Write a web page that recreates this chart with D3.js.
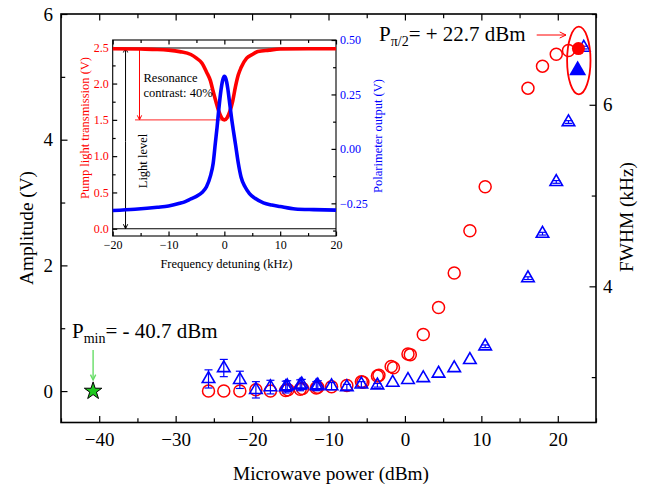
<!DOCTYPE html>
<html><head><meta charset="utf-8">
<script src="https://cdn.jsdelivr.net/npm/d3@7"></script>
<style>body{margin:0;background:#fff} svg{display:block} text{font-family:"Liberation Serif","Times New Roman",serif}</style>
</head><body><svg id="c" width="649" height="487"></svg>
<script>
// ---------- main chart data ----------
const ampPower = [-25.7,-23.7,-21.6,-19.5,-17.6,-15.6,-15.3,-13.7,-13.4,-11.6,-11.4,-9.6,-7.6,-5.7,-5.5,-3.6,-3.4,-1.8,-1.5,0.4,0.7,2.4,4.4,6.45,8.5,10.5,16.1,18.0,19.8,21.4];
const amplitude = [0,0,0,0.02,0,0.01,0.02,0.03,0.04,0.05,0.06,0.07,0.09,0.15,0.14,0.24,0.25,0.39,0.37,0.59,0.58,0.90,1.33,1.88,2.55,3.25,4.82,5.17,5.36,5.42];
const fwhmPower = [-25.7,-23.7,-21.6,-19.5,-17.6,-15.6,-15.4,-13.7,-13.5,-11.6,-11.4,-9.6,-7.6,-5.7,-3.6,-1.6,0.4,2.4,4.4,6.45,8.5,10.5,16.1,18.0,19.8,21.4,23.4];
const fwhm = [2.98,3.10,2.97,2.86,2.89,2.89,2.90,2.91,2.92,2.90,2.91,2.90,2.89,2.92,2.91,2.94,2.97,2.99,3.04,3.10,3.19,3.34,4.09,4.58,5.15,5.81,6.63];
const fwhmErr = [0.10,0.095,0.095,0.09,0.075,0.065,0.06,0.06,0.055,0.05,0.05,0.04,0.03,0.03,0.02,0,0,0,0,0,0,0.015,0.015,0.015,0.015,0.015,0.015];
const piPower = 22.7, piAmp = 5.45;       // filled red circle
const piFwhmPower = 22.6, piFwhm = 6.38;  // filled blue triangle
const minPower = -40.8, minAmp = 0;       // green star
const xTicks = [-40,-30,-20,-10,0,10,20];
const xMinor = [-45,-35,-25,-15,-5,5,15,25];
const ampTicks = [0,2,4,6], ampMinor = [1,3,5];
const fwhmTicks = [4,6], fwhmMinor = [3,5,7];

// ---------- inset data ----------
const detuneRed = [-20,-15,-12,-10,-8,-6,-5,-4,-3.2,-2.5,-2,-1.5,-1,-0.5,0,0.5,1,1.5,2,2.5,3,4,5,6,8,10,15,20];
const pumpTrans = [2.48,2.475,2.47,2.46,2.44,2.40,2.35,2.28,2.16,2.04,1.89,1.75,1.62,1.53,1.50,1.53,1.62,1.76,1.96,2.12,2.22,2.35,2.40,2.44,2.46,2.475,2.48,2.48];
const detuneBlue = [-20,-16,-12,-10,-8,-7,-6,-5,-4,-3.2,-2.5,-2,-1.6,-1.3,-1,-0.6,-0.3,0,0.3,0.6,1,1.3,1.6,2,2.5,3,3.7,4.5,5.5,7,8.5,10,12.7,16,20];
const polarOut = [-0.283,-0.277,-0.268,-0.262,-0.250,-0.242,-0.230,-0.218,-0.200,-0.174,-0.125,-0.066,0.03,0.10,0.18,0.27,0.315,0.333,0.32,0.28,0.20,0.14,0.087,0.02,-0.066,-0.13,-0.174,-0.205,-0.227,-0.248,-0.258,-0.265,-0.276,-0.279,-0.281];
const inXTicks = [-20,-10,0,10,20], inXMinor = [-15,-5,5,15];
const inLTicks = [0,0.5,1,1.5,2,2.5], inLMinor = [0.25,0.75,1.25,1.75,2.25];
const inRTicks = [-0.25,0,0.25,0.5], inRMinor = [-0.375,-0.125,0.125,0.375];

const RED = "#ff0000", BLUE = "#0000ff", FONT = "Liberation Serif";
const svg = d3.select("#c");

// ---------- main scales ----------
const M = {l:61, r:596, t:14, b:422.5};
const x = d3.scaleLinear().domain([-45,25]).range([M.l, M.r]);
const yA = d3.scaleLinear().domain([-0.5,6]).range([M.b, M.t]);
const yF = d3.scaleLinear().domain([2.5,7]).range([M.b, M.t]);

function styleAxis(g, fs, color){
  g.attr("font-family", FONT).attr("font-size", fs);
  g.select(".domain").remove();
  g.selectAll("line").attr("stroke", "#000").attr("stroke-width", 1.2);
  g.selectAll("text").attr("fill", color || "#000");
}
function axisPair(gen, scale, major, minor, size, pad, fmt, fs, color, tr){
  const gMin = svg.append("g").attr("transform", tr)
    .call(gen(scale).tickValues(minor).tickSize(-size*0.65).tickFormat(""));
  styleAxis(gMin, fs);
  const gMaj = svg.append("g").attr("transform", tr)
    .call(gen(scale).tickValues(major).tickSize(-size).tickPadding(pad).tickFormat(fmt));
  styleAxis(gMaj, fs, color);
  return gMaj;
}
const fmtInt = d => d3.format("d")(d);
axisPair(d3.axisBottom, x, xTicks, xMinor, 6.5, 10, fmtInt, 19, null, `translate(0,${M.b})`);
axisPair(d3.axisTop, x, xTicks, xMinor, 6.5, 0, () => "", 19, null, `translate(0,${M.t})`);
axisPair(d3.axisLeft, yA, ampTicks, ampMinor, 6.5, 8, fmtInt, 19, null, `translate(${M.l},0)`);
axisPair(d3.axisRight, yF, fwhmTicks, fwhmMinor, 6.5, 7, fmtInt, 19, null, `translate(${M.r},0)`);
svg.append("rect").attr("x", M.l).attr("y", M.t).attr("width", M.r-M.l).attr("height", M.b-M.t)
  .attr("fill", "none").attr("stroke", "#000").attr("stroke-width", 1.6);

// axis titles
svg.append("text").attr("x", 331).attr("y", 480).attr("text-anchor","middle")
  .attr("font-size", 19.3).text("Microwave power (dBm)");
svg.append("text").attr("transform","translate(33,228) rotate(-90)").attr("text-anchor","middle")
  .attr("font-size", 19.3).text("Amplitude (V)");
svg.append("text").attr("transform","translate(633,217) rotate(-90)").attr("text-anchor","middle")
  .attr("font-size", 19.3).text("FWHM (kHz)");

// ---------- main data marks ----------
const ampData = ampPower.map((p,i)=>({p, v: amplitude[i]}));
svg.append("g").selectAll("circle").data(ampData).join("circle")
  .attr("cx", d=>x(d.p)).attr("cy", d=>yA(d.v)).attr("r", 6)
  .attr("fill","none").attr("stroke", RED).attr("stroke-width", 1.5);

const fData = fwhmPower.map((p,i)=>({p, v: fwhm[i], e: fwhmErr[i]}));
const eb = svg.append("g").attr("stroke", BLUE).attr("stroke-width", 1.2);
fData.filter(d=>d.e>0).forEach(d=>{
  const cx = x(d.p), y1 = yF(d.v+d.e), y2 = yF(d.v-d.e);
  eb.append("line").attr("x1",cx).attr("x2",cx).attr("y1",y1).attr("y2",y2);
  eb.append("line").attr("x1",cx-4).attr("x2",cx+4).attr("y1",y1).attr("y2",y1);
  eb.append("line").attr("x1",cx-4).attr("x2",cx+4).attr("y1",y2).attr("y2",y2);
});
const tri = d3.symbol().type(d3.symbolTriangle).size(68);
svg.append("g").selectAll("path").data(fData).join("path")
  .attr("transform", d=>`translate(${x(d.p)},${yF(d.v)})`).attr("d", tri)
  .attr("fill","none").attr("stroke", BLUE).attr("stroke-width", 1.6);

// highlighted points
svg.append("circle").attr("cx", x(piPower)).attr("cy", yA(piAmp)).attr("r", 6.5).attr("fill", RED);
svg.append("path").attr("transform", `translate(${x(piFwhmPower)},${yF(piFwhm)})`)
  .attr("d", d3.symbol().type(d3.symbolTriangle).size(125)).attr("fill", BLUE);
svg.append("ellipse").attr("cx", x(22.75)).attr("cy", yA(5.26)).attr("rx", 11.7).attr("ry", 33.8)
  .attr("fill","none").attr("stroke", RED).attr("stroke-width", 1.8);
svg.append("path").attr("transform", `translate(${x(minPower)},${yA(minAmp)})`)
  .attr("d", d3.symbol().type(d3.symbolStar).size(95)).attr("fill", "#1ec81e").attr("stroke","#000").attr("stroke-width",1);

// annotations
function arrow(g, x1,y1,x2,y2,color,w,head){
  g.append("line").attr("x1",x1).attr("y1",y1).attr("x2",x2).attr("y2",y2).attr("stroke",color).attr("stroke-width",w);
  const a = Math.atan2(y2-y1,x2-x1), L = head||6, s = 0.45;
  g.append("path").attr("d", `M${x2-L*Math.cos(a-s)},${y2-L*Math.sin(a-s)}L${x2},${y2}L${x2-L*Math.cos(a+s)},${y2-L*Math.sin(a+s)}`)
    .attr("fill","none").attr("stroke",color).attr("stroke-width",w);
}
const ann = svg.append("g");
arrow(ann, x(-40.8), 350, x(-40.8), 380, "#66dd66", 1.4, 6);
arrow(ann, 536.7, 35, 566, 35, RED, 1, 7);
function subLabel(xp, yp, main, sub, rest){
  const t = svg.append("text").attr("x", xp).attr("y", yp).attr("font-size", 21);
  t.append("tspan").text(main);
  t.append("tspan").attr("font-size", 14).attr("dy", 5).text(sub);
  t.append("tspan").attr("dy", -5).text(rest);
}
subLabel(72, 338, "P", "min", "= - 40.7 dBm");
subLabel(379, 41, "P", "\u03c0/2", "= + 22.7 dBm");

// ---------- inset ----------
const I = {l:112.7, r:336, t:40, b:236};
const xi = d3.scaleLinear().domain([-20,20]).range([I.l, I.r]);
const yl = d3.scaleLinear().domain([-0.1,2.6]).range([I.b, I.t]);
const yr = d3.scaleLinear().domain([-0.4,0.5]).range([I.b, I.t]);
svg.append("rect").attr("x", I.l).attr("y", I.t).attr("width", I.r-I.l).attr("height", I.b-I.t).attr("fill","#fff");
axisPair(d3.axisBottom, xi, inXTicks, inXMinor, 4.5, 4, fmtInt, 12, null, `translate(0,${I.b})`);
axisPair(d3.axisTop, xi, inXTicks, inXMinor, 4.5, 0, () => "", 12, null, `translate(0,${I.t})`);
axisPair(d3.axisLeft, yl, inLTicks, inLMinor, 4.5, 4, d3.format(".1f"), 12, RED, `translate(${I.l},0)`);
axisPair(d3.axisRight, yr, inRTicks, inRMinor, 4.5, 4, d3.format(".2f"), 12, BLUE, `translate(${I.r},0)`);
svg.append("rect").attr("x", I.l).attr("y", I.t).attr("width", I.r-I.l).attr("height", I.b-I.t)
  .attr("fill","none").attr("stroke","#000").attr("stroke-width",1.1);

// reference lines
svg.append("line").attr("x1", I.l).attr("x2", I.r).attr("y1", yl(2.49)).attr("y2", yl(2.49)).attr("stroke","#000").attr("stroke-width",1.1);
svg.append("line").attr("x1", I.l).attr("x2", I.r).attr("y1", yl(0)).attr("y2", yl(0)).attr("stroke","#000").attr("stroke-width",1.1);
svg.append("line").attr("x1", xi(-16)).attr("x2", xi(-0.1)).attr("y1", yl(1.5)).attr("y2", yl(1.5)).attr("stroke","#ff5050").attr("stroke-width",1.2);

const ia = svg.append("g");
arrow(ia, xi(-15.2), yl(2.49), xi(-15.2), yl(1.5), RED, 1, 5);
arrow(ia, xi(-17.7), yl(1.2), xi(-17.7), yl(2.49), "#000", 1, 5);
arrow(ia, xi(-17.7), yl(1.2), xi(-17.7), yl(0), "#000", 1, 5);

// curves
const lineR = d3.line().x((d,i)=>xi(detuneRed[i])).y(d=>yl(d)).curve(d3.curveMonotoneX);
svg.append("path").attr("d", lineR(pumpTrans)).attr("fill","none").attr("stroke", RED).attr("stroke-width", 3.6);
const lineB = d3.line().x((d,i)=>xi(detuneBlue[i])).y(d=>yr(d)).curve(d3.curveMonotoneX);
svg.append("path").attr("d", lineB(polarOut)).attr("fill","none").attr("stroke", BLUE).attr("stroke-width", 3.6);

// inset texts
svg.append("text").attr("x", 143.5).attr("y", 82).attr("font-size", 12.5).text("Resonance");
svg.append("text").attr("x", 143.5).attr("y", 97).attr("font-size", 12.5).text("contrast: 40%");
svg.append("text").attr("transform","translate(147,161) rotate(-90)").attr("text-anchor","middle")
  .attr("font-size", 12.5).text("Light level");
svg.append("text").attr("transform","translate(89,128) rotate(-90)").attr("text-anchor","middle")
  .attr("font-size", 12.5).attr("fill", RED).text("Pump light transmission (V)");
svg.append("text").attr("transform","translate(382,136) rotate(-90)").attr("text-anchor","middle")
  .attr("font-size", 12.5).attr("fill", BLUE).text("Polarimeter output (V)");
svg.append("text").attr("x", (I.l+I.r)/2 + 2).attr("y", 268).attr("text-anchor","middle")
  .attr("font-size", 12.5).text("Frequency detuning (kHz)");
</script></body></html>
